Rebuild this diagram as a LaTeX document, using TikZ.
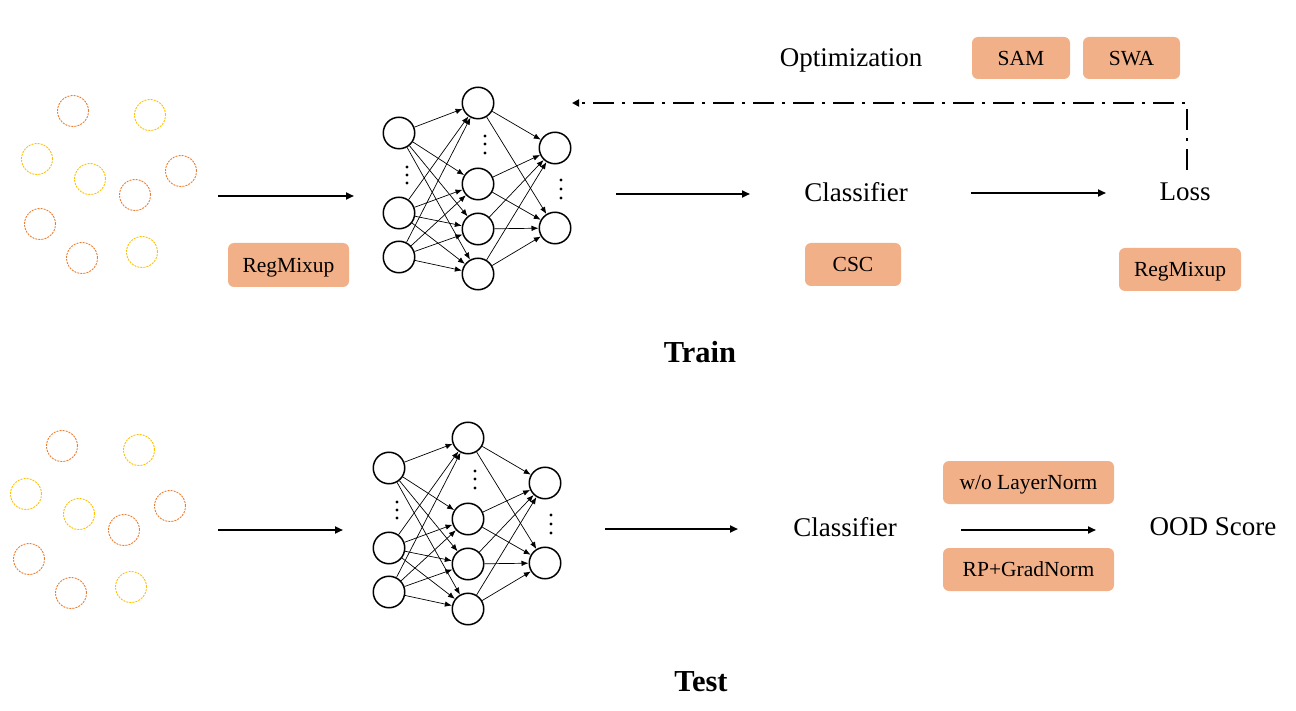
\documentclass[tikz,border=0pt]{standalone}
\usepackage{fontspec}
\setmainfont{Liberation Serif}
\usetikzlibrary{arrows.meta}
\definecolor{boxfill}{HTML}{F2B088}
\definecolor{dorange}{HTML}{ED7D31}
\definecolor{dyellow}{HTML}{FFC000}
\begin{document}
\begin{tikzpicture}[x=1pt,y=-1pt,
  dc/.style={circle,draw,dash pattern=on 2pt off 1.1pt,line width=0.9pt,minimum size=31pt,inner sep=0pt},
  neuron/.style={circle,draw,line width=1.5pt,minimum size=31.5pt,inner sep=0pt},
  conn/.style={line width=0.7pt,-{Latex[length=7pt,width=5.5pt]}},
  flow/.style={line width=2.2pt,-{Triangle[length=8pt,width=7pt]}},
  fb/.style={line width=2.6pt,dash pattern=on 21pt off 8pt on 3pt off 8pt,-{Triangle[length=7pt,width=7pt]}},
  lbl/.style={font=\fontsize{27}{32}\selectfont,inner sep=0pt},
  tag/.style={fill=boxfill,rounded corners=6pt,font=\fontsize{21.5}{26}\selectfont,inner sep=0pt,text depth=0pt},
  ttl/.style={font=\fontsize{30.5}{36}\selectfont\bfseries,inner sep=0pt},
  dotmark/.style={circle,fill,inner sep=0pt,minimum size=3.4pt}]
\useasboundingbox (0,0) rectangle (1296,711);

% data point circles
\foreach \p/\dx/\dy in {tr/0/0, te/-11/335} {
  \foreach \x/\y/\c [count=\i] in {73/111/dorange,150/115/dyellow,37/159/dyellow,90/179/dyellow,181/171/dorange,135/195/dorange,40/224/dorange,82/258/dorange,142/252/dyellow}
    \node[dc,draw=\c] (\p-c\i) at (\x+\dx,\y+\dy) {};
}

% neural networks
\foreach \p/\dx/\dy in {tr/0/0, te/-10/335} {
  \node[neuron] (\p-i1) at (399+\dx,133+\dy) {};
  \node[neuron] (\p-i2) at (399+\dx,213+\dy) {};
  \node[neuron] (\p-i3) at (399+\dx,257+\dy) {};
  \node[neuron] (\p-h1) at (478+\dx,103+\dy) {};
  \node[neuron] (\p-h2) at (478+\dx,184+\dy) {};
  \node[neuron] (\p-h3) at (478+\dx,229+\dy) {};
  \node[neuron] (\p-h4) at (478+\dx,274+\dy) {};
  \node[neuron] (\p-o1) at (555+\dx,148+\dy) {};
  \node[neuron] (\p-o2) at (555+\dx,228+\dy) {};
  \foreach \a in {1,2,3} \foreach \b in {1,2,3,4} \draw[conn] (\p-i\a) -- (\p-h\b);
  \foreach \a in {1,2,3,4} \foreach \b in {1,2} \draw[conn] (\p-h\a) -- (\p-o\b);
  \foreach \yy [count=\k] in {167,175,183} \node[dotmark] (\p-di\k) at (407+\dx,\yy+\dy) {};
  \foreach \yy [count=\k] in {136,144,153} \node[dotmark] (\p-dh\k) at (485+\dx,\yy+\dy) {};
  \foreach \yy [count=\k] in {180,189,198} \node[dotmark] (\p-do\k) at (561+\dx,\yy+\dy) {};
}

% ---------- Train ----------
\coordinate (a1s) at (218,196); \coordinate (a1e) at (354,196);
\draw[flow] (a1s) -- (a1e);
\node[tag,minimum width=121pt,minimum height=44pt] (trmix) at (288.5,265) {RegMixup};
\coordinate (a2s) at (616,194); \coordinate (a2e) at (750,194);
\draw[flow] (a2s) -- (a2e);
\node[lbl] (trcls) at (856,192) {Classifier};
\node[tag,minimum width=96pt,minimum height=43pt] (csc) at (853,264.5) {CSC};
\coordinate (a3s) at (971,193); \coordinate (a3e) at (1106,193);
\draw[flow] (a3s) -- (a3e);
\node[lbl] (loss) at (1185,192) {Loss};
\node[tag,minimum width=122pt,minimum height=43pt] (lossmix) at (1180,269.5) {RegMixup};
\node[lbl] (opt) at (851,60) {Optimization};
\node[tag,minimum width=98pt,minimum height=42pt] (sam) at (1021,58) {SAM};
\node[tag,minimum width=97pt,minimum height=42pt] (swa) at (1131.5,58) {SWA};
\coordinate (fbs) at (1187,170); \coordinate (fbc) at (1187,103); \coordinate (fbe) at (572,103);
\draw[fb] (fbs) -- (fbc) -- (fbe);
\node[ttl] (train) at (700,352) {Train};

% ---------- Test ----------
\coordinate (b1s) at (218,530); \coordinate (b1e) at (343,530);
\draw[flow] (b1s) -- (b1e);
\coordinate (b2s) at (605,529); \coordinate (b2e) at (738,529);
\draw[flow] (b2s) -- (b2e);
\node[lbl] (tecls) at (845,527) {Classifier};
\node[tag,minimum width=171pt,minimum height=43pt] (wol) at (1028.5,482.5) {w/o LayerNorm};
\coordinate (b3s) at (961,530); \coordinate (b3e) at (1096,530);
\draw[flow] (b3s) -- (b3e);
\node[tag,minimum width=171pt,minimum height=43pt] (rpg) at (1028.5,569.5) {RP+GradNorm};
\node[lbl] (ood) at (1213,527) {OOD Score};
\node[ttl] (test) at (701,682) {Test};
\end{tikzpicture}
\end{document}
